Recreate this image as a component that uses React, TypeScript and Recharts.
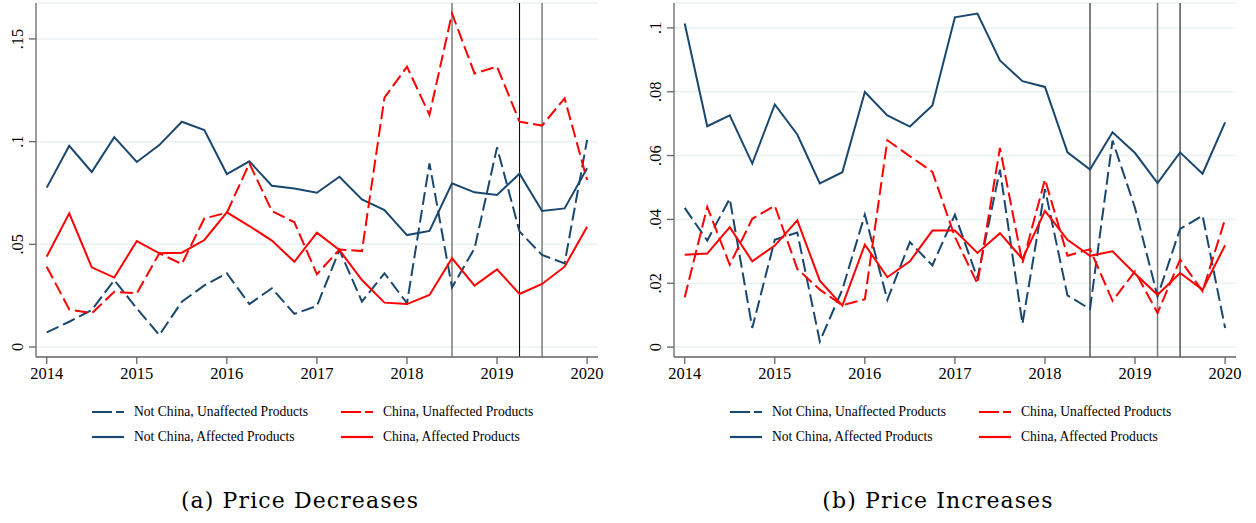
import React from 'react'
import { LineChart, Line, XAxis, YAxis, CartesianGrid, ReferenceLine } from 'recharts'

const NAVY = '#1a476f'
const RED = '#ff0000'
const FONT = '"Liberation Serif", "Times New Roman", serif'

const quarters = [
  2014, 2014.25, 2014.5, 2014.75,
  2015, 2015.25, 2015.5, 2015.75,
  2016, 2016.25, 2016.5, 2016.75,
  2017, 2017.25, 2017.5, 2017.75,
  2018, 2018.25, 2018.5, 2018.75,
  2019, 2019.25, 2019.5, 2019.75,
  2020,
]
const yearTicks = [2014, 2015, 2016, 2017, 2018, 2019, 2020]

// (a) price decreases
const decNotChinaUnaff = [
  0.0071, 0.0123, 0.018, 0.0326, 0.0188, 0.0058, 0.022, 0.030, 0.0359, 0.0209, 0.0286, 0.0161,
  0.020, 0.0472, 0.0221, 0.0359, 0.0213, 0.0894, 0.029, 0.048, 0.0972, 0.0562, 0.0448, 0.0407, 0.1008,
]
const decNotChinaAff = [
  0.0776, 0.098, 0.0852, 0.1022, 0.0901, 0.0983, 0.1097, 0.1056, 0.0842, 0.0904, 0.0785, 0.0772,
  0.0751, 0.0829, 0.0719, 0.0667, 0.0545, 0.0565, 0.0797, 0.0753, 0.074, 0.0844, 0.0662, 0.0675, 0.087,
]
const decChinaUnaff = [
  0.0391, 0.0183, 0.0164, 0.0269, 0.0261, 0.0456, 0.0404, 0.0626, 0.0654, 0.0894, 0.0662, 0.0607,
  0.0354, 0.0475, 0.0467, 0.1214, 0.1365, 0.113, 0.1624, 0.1332, 0.1365, 0.1097, 0.1078, 0.1211, 0.0813,
]
const decChinaAff = [
  0.044, 0.0651, 0.0388, 0.0338, 0.0516, 0.0456, 0.0459, 0.0521, 0.0656, 0.0589, 0.0518, 0.0415,
  0.0557, 0.0472, 0.0326, 0.0216, 0.0209, 0.0253, 0.0432, 0.0299, 0.0378, 0.0258, 0.0307, 0.0391, 0.0586,
]

// (b) price increases
const incNotChinaUnaff = [
  0.0436, 0.0334, 0.0465, 0.006, 0.0336, 0.0359, 0.0018, 0.018, 0.0415, 0.0148, 0.0329, 0.0256,
  0.0415, 0.0216, 0.0556, 0.0073, 0.0495, 0.0162, 0.0119, 0.0647, 0.0436, 0.0159, 0.037, 0.0412, 0.006,
]
const incNotChinaAff = [
  0.1014, 0.0692, 0.0726, 0.0575, 0.076, 0.0666, 0.0513, 0.0548, 0.0799, 0.0726, 0.0691, 0.0757,
  0.1033, 0.1045, 0.0898, 0.0833, 0.0815, 0.061, 0.0556, 0.0673, 0.0608, 0.0514, 0.061, 0.0543, 0.0704,
]
const incChinaUnaff = [
  0.0156, 0.0439, 0.0258, 0.0402, 0.0443, 0.0245, 0.018, 0.0131, 0.015, 0.0648, 0.0598, 0.0549,
  0.0345, 0.0199, 0.0624, 0.0263, 0.0525, 0.0286, 0.0307, 0.0145, 0.0237, 0.0107, 0.0274, 0.0175, 0.0401,
]
const incChinaAff = [
  0.0289, 0.0293, 0.0376, 0.0269, 0.0318, 0.0397, 0.0208, 0.013, 0.0321, 0.0219, 0.0269, 0.0365,
  0.0365, 0.0295, 0.0357, 0.0276, 0.0427, 0.0336, 0.0286, 0.03, 0.023, 0.0164, 0.0232, 0.018, 0.0319,
]

const SERIES = [
  { key: 'ncu', label: 'Not China, Unaffected Products', color: NAVY, dash: '13 5' },
  { key: 'nca', label: 'Not China, Affected Products', color: NAVY, dash: undefined },
  { key: 'cu', label: 'China, Unaffected Products', color: RED, dash: '13 5' },
  { key: 'ca', label: 'China, Affected Products', color: RED, dash: undefined },
]

const buildRows = (ncu: number[], nca: number[], cu: number[], ca: number[]) =>
  quarters.map((t, i) => ({ t, ncu: ncu[i], nca: nca[i], cu: cu[i], ca: ca[i] }))

const fmt = (v: number) => (v === 0 ? '0' : String(v).replace(/^0/, ''))

const tickStyle = { fontFamily: FONT, fontSize: 16.5, fill: '#000' }

const YTick = (props: any) => {
  const { x, y, payload } = props
  return (
    <text x={x} y={y} transform={`rotate(-90 ${x} ${y})`} textAnchor="middle" style={tickStyle}>
      {fmt(payload.value)}
    </text>
  )
}

const XTick = (props: any) => {
  const { x, y, payload } = props
  return (
    <text x={x} y={y + 12} textAnchor="middle" style={tickStyle}>
      {payload.value}
    </text>
  )
}

interface PanelProps {
  left: number
  rows: ReturnType<typeof buildRows>
  yDomain: [number, number]
  yTicks: number[]
  vlines: { x: number; color: string; width: number }[]
  caption: string
  captionCenter: number
}

function Panel({ left, rows, yDomain, yTicks, vlines, caption, captionCenter }: PanelProps) {
  return (
    <>
      <div style={{ position: 'absolute', left, top: 0 }}>
        <LineChart width={618} height={390} data={rows} margin={{ top: 3, right: 20, left: 0, bottom: 0 }}>
          <CartesianGrid vertical={false} stroke="#eaf2f3" strokeWidth={1.5} />
          <XAxis
            dataKey="t"
            type="number"
            domain={[2013.881, 2020.121]}
            ticks={yearTicks}
            allowDataOverflow
            height={33}
            tickSize={7}
            tickMargin={3}
            stroke="#666"
            strokeWidth={1.3}
            tick={<XTick />}
          />
          <YAxis
            type="number"
            domain={yDomain}
            ticks={yTicks}
            allowDataOverflow
            width={36}
            tickSize={7}
            tickMargin={6}
            stroke="#666"
            strokeWidth={1.3}
            tick={<YTick />}
          />
          {vlines.map((v) => (
            <ReferenceLine key={v.x} x={v.x} stroke={v.color} strokeWidth={v.width} />
          ))}
          {SERIES.map((s) => (
            <Line
              key={s.key}
              dataKey={s.key}
              type="linear"
              stroke={s.color}
              strokeWidth={2}
              strokeDasharray={s.dash}
              dot={false}
              isAnimationActive={false}
            />
          ))}
        </LineChart>
      </div>

      {/* Legend */}
      {SERIES.map((s, i) => {
        const col = i < 2 ? 0 : 1
        const row = i % 2
        const x0 = left + 92 + col * 249
        const y0 = 404 + row * 25
        return (
          <div
            key={s.key}
            style={{ position: 'absolute', left: x0, top: y0, display: 'flex', alignItems: 'center', height: 16 }}
          >
            <svg width={32} height={4} style={{ marginRight: 10 }}>
              <line x1={0} y1={2} x2={32} y2={2} stroke={s.color} strokeWidth={2.2} strokeDasharray={s.dash ? '20 4' : undefined} />
            </svg>
            <span style={{ fontFamily: FONT, fontSize: 13.6, color: '#000', whiteSpace: 'nowrap' }}>{s.label}</span>
          </div>
        )
      })}

      <div
        style={{
          position: 'absolute',
          left: captionCenter - 200,
          width: 400,
          top: 488,
          textAlign: 'center',
          fontFamily: '"DejaVu Serif", serif',
          fontSize: 22,
          letterSpacing: 1.1,
          color: '#000',
          whiteSpace: 'nowrap',
        }}
      >
        {caption}
      </div>
    </>
  )
}

export default function App() {
  const decRows = buildRows(decNotChinaUnaff, decNotChinaAff, decChinaUnaff, decChinaAff)
  const incRows = buildRows(incNotChinaUnaff, incNotChinaAff, incChinaUnaff, incChinaAff)

  return (
    <div style={{ position: 'relative', width: 1256, height: 523, background: '#fff', overflow: 'hidden' }}>
      <style>{'body { margin: 0; }'}</style>
      <Panel
        left={0}
        rows={decRows}
        yDomain={[-0.00487, 0.1675]}
        yTicks={[0, 0.05, 0.1, 0.15]}
        vlines={[
          { x: 2018.5, color: '#7a7a7a', width: 1.5 },
          { x: 2019.25, color: '#000', width: 1 },
          { x: 2019.5, color: '#7a7a7a', width: 1.5 },
        ]}
        caption="(a) Price Decreases"
        captionCenter={300}
      />
      <Panel
        left={638}
        rows={incRows}
        yDomain={[-0.0031, 0.1078]}
        yTicks={[0, 0.02, 0.04, 0.06, 0.08, 0.1]}
        vlines={[
          { x: 2018.5, color: '#000', width: 1 },
          { x: 2019.25, color: '#7a7a7a', width: 1.5 },
          { x: 2019.5, color: '#000', width: 1 },
        ]}
        caption="(b) Price Increases"
        captionCenter={938}
      />
    </div>
  )
}
